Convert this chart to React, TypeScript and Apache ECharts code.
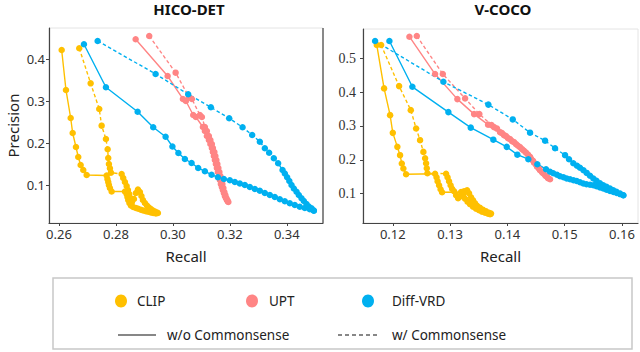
import React, { useEffect, useRef } from "react";
import * as echarts from "echarts";

// ---------- tick labels ----------
const hicoXTicks = [0.26, 0.28, 0.3, 0.32, 0.34];
const hicoYTicks = [0.1, 0.2, 0.3, 0.4];
const vcocoXTicks = [0.12, 0.13, 0.14, 0.15, 0.16];
const vcocoYTicks = [0.1, 0.2, 0.3, 0.4, 0.5];

// ---------- HICO-DET (recall, precision) ----------
const hicoClipSolid: [number, number][] = [
  [0.26095, 0.4214], [0.26246, 0.3262], [0.26411, 0.2595], [0.26481, 0.2238], [0.26597, 0.1905],
  [0.26677, 0.1667], [0.26761, 0.1476], [0.26853, 0.1357], [0.26972, 0.1238], [0.27674, 0.1226],
  [0.27702, 0.1143], [0.2773, 0.1071], [0.27754, 0.1], [0.27789, 0.0929], [0.27849, 0.0845],
  [0.28316, 0.0845], [0.28376, 0.0786], [0.28404, 0.0714], [0.28432, 0.0643], [0.28474, 0.0571],
  [0.28526, 0.0512], [0.28607, 0.0476], [0.28702, 0.0452], [0.28783, 0.0433], [0.28877, 0.041],
  [0.28958, 0.0393], [0.29053, 0.0376], [0.29134, 0.0362], [0.29228, 0.0345], [0.29309, 0.0333],
  [0.29404, 0.0321],
];
const hicoClipCs: [number, number][] = [
  [0.26712, 0.4255], [0.27112, 0.3421], [0.27414, 0.281], [0.27498, 0.2412], [0.27649, 0.2095],
  [0.27709, 0.185], [0.2773, 0.1643], [0.27754, 0.15], [0.27789, 0.1398], [0.27824, 0.1293],
  [0.282, 0.1262], [0.28256, 0.1167], [0.28316, 0.1071], [0.28376, 0.0976], [0.28421, 0.0881],
  [0.28467, 0.0786], [0.28509, 0.069], [0.28562, 0.0595], [0.28632, 0.0667], [0.28702, 0.081],
  [0.28772, 0.0893], [0.28842, 0.0833], [0.28895, 0.0738], [0.28947, 0.0643], [0.29017, 0.0571],
  [0.29088, 0.0512], [0.29158, 0.0464], [0.29228, 0.0429], [0.29298, 0.0393], [0.29368, 0.0369],
  [0.29439, 0.0345], [0.29474, 0.0333],
];
const hicoUptSolid: [number, number][] = [
  [0.28692, 0.4469], [0.29815, 0.3595], [0.30351, 0.3048], [0.30456, 0.3], [0.30713, 0.2667],
  [0.30807, 0.2619], [0.31053, 0.2381], [0.31123, 0.2286], [0.31193, 0.2167], [0.31263, 0.2071],
  [0.31316, 0.1976], [0.31368, 0.1881], [0.31404, 0.1786], [0.31439, 0.169], [0.31474, 0.1595],
  [0.31509, 0.15], [0.31544, 0.1405], [0.31579, 0.131], [0.31614, 0.1214], [0.31649, 0.1119],
  [0.31684, 0.1024], [0.31719, 0.0952], [0.31754, 0.0881], [0.31789, 0.081], [0.31825, 0.0738],
  [0.3186, 0.069], [0.31895, 0.0643], [0.3193, 0.0607],
];
const hicoUptCs: [number, number][] = [
  [0.29169, 0.4548], [0.30096, 0.3674], [0.30563, 0.3095], [0.30667, 0.3048], [0.30948, 0.2667],
  [0.31018, 0.2619], [0.31123, 0.2381], [0.31193, 0.2286], [0.31263, 0.2167], [0.31316, 0.2071],
  [0.31368, 0.1976], [0.31404, 0.1881], [0.31456, 0.1786], [0.31491, 0.169], [0.31526, 0.1595],
  [0.31561, 0.15], [0.31596, 0.1405], [0.31632, 0.131], [0.31667, 0.1214], [0.31702, 0.1119],
  [0.31737, 0.1024], [0.31772, 0.0929], [0.31807, 0.0833], [0.31842, 0.0762], [0.31877, 0.069],
  [0.31912, 0.0643], [0.31947, 0.0595],
];
const hicoDiffSolid: [number, number][] = [
  [0.26877, 0.435], [0.27649, 0.3326], [0.28762, 0.2745], [0.29309, 0.2374], [0.29744, 0.215],
  [0.29983, 0.1917], [0.30193, 0.1762], [0.30421, 0.1619], [0.30656, 0.1524], [0.30888, 0.1405],
  [0.31123, 0.1326], [0.31358, 0.1245], [0.31579, 0.1183], [0.3179, 0.1143], [0.32, 0.1112],
  [0.32176, 0.1071], [0.32351, 0.1036], [0.32527, 0.1], [0.32702, 0.0952], [0.32878, 0.0905],
  [0.33053, 0.0864], [0.33228, 0.081], [0.33404, 0.0762], [0.33579, 0.0714], [0.33755, 0.066],
  [0.3393, 0.0612], [0.34105, 0.0564], [0.34281, 0.0524], [0.34456, 0.0483], [0.34632, 0.0452],
  [0.34807, 0.0421], [0.34948, 0.0393],
];
const hicoDiffCs: [number, number][] = [
  [0.27358, 0.4429], [0.29393, 0.3643], [0.30537, 0.316], [0.31333, 0.285], [0.31976, 0.2588],
  [0.32446, 0.2374], [0.32783, 0.219], [0.33053, 0.2031], [0.33228, 0.1874], [0.33379, 0.1769],
  [0.33544, 0.1636], [0.33695, 0.1517], [0.3385, 0.1357], [0.3393, 0.1274], [0.34011, 0.1183],
  [0.34088, 0.1095], [0.34165, 0.1], [0.34246, 0.0917], [0.34341, 0.084], [0.34421, 0.0762],
  [0.34516, 0.0683], [0.34597, 0.0619], [0.34691, 0.0548], [0.34772, 0.0488], [0.34867, 0.0445],
  [0.34948, 0.0388],
];

// ---------- V-COCO (recall, precision) ----------
const vcocoClipSolid: [number, number][] = [
  [0.11721, 0.5394], [0.11848, 0.4111], [0.11953, 0.332], [0.12, 0.2796], [0.1208, 0.2381],
  [0.12127, 0.2135], [0.12157, 0.1889], [0.12185, 0.1741], [0.12232, 0.1572], [0.12738, 0.1587],
  [0.12764, 0.1483], [0.12782, 0.1364], [0.12808, 0.1246], [0.12834, 0.1127], [0.1286, 0.1038],
  [0.13192, 0.1047], [0.13227, 0.0949], [0.13262, 0.0846], [0.13305, 0.0757], [0.13349, 0.0683],
  [0.13401, 0.0609], [0.13454, 0.055], [0.13506, 0.0505], [0.13558, 0.0461], [0.13611, 0.0431],
  [0.13663, 0.0401], [0.13698, 0.0387],
];
const vcocoClipCs: [number, number][] = [
  [0.11796, 0.5394], [0.1211, 0.4179], [0.12314, 0.3468], [0.12407, 0.2926], [0.12476, 0.2579],
  [0.12534, 0.2233], [0.12564, 0.2046], [0.12581, 0.1898], [0.12593, 0.175], [0.12604, 0.1601],
  [0.1293, 0.1587], [0.12956, 0.1483], [0.12982, 0.1364], [0.13009, 0.1246], [0.13035, 0.1142],
  [0.1307, 0.1068], [0.13105, 0.0949], [0.1314, 0.0861], [0.13192, 0.092], [0.13244, 0.1068],
  [0.13297, 0.1098], [0.13331, 0.1009], [0.13366, 0.089], [0.13401, 0.0801], [0.13436, 0.0712],
  [0.13471, 0.0638], [0.13523, 0.0579], [0.13576, 0.052], [0.13628, 0.0475], [0.1368, 0.0431],
  [0.13715, 0.0407],
];
const vcocoUptSolid: [number, number][] = [
  [0.1229, 0.564], [0.12738, 0.4535], [0.13127, 0.3794], [0.13419, 0.335], [0.13663, 0.3038],
  [0.13768, 0.2964], [0.13872, 0.2816], [0.13942, 0.2727], [0.14012, 0.2638], [0.14082, 0.255],
  [0.14152, 0.2461], [0.14221, 0.2372], [0.14291, 0.2268], [0.14361, 0.215], [0.14413, 0.2031],
  [0.14466, 0.1913], [0.14518, 0.1794], [0.1457, 0.169], [0.14623, 0.1601], [0.14675, 0.1513],
  [0.1471, 0.1453],
];
const vcocoUptCs: [number, number][] = [
  [0.12419, 0.5661], [0.12873, 0.4535], [0.13262, 0.3815], [0.13511, 0.335], [0.13724, 0.3024],
  [0.1382, 0.292], [0.13907, 0.2787], [0.13977, 0.2698], [0.14047, 0.2609], [0.14117, 0.252],
  [0.14187, 0.2416], [0.14256, 0.2313], [0.14326, 0.2209], [0.14396, 0.209], [0.14448, 0.1972],
  [0.14501, 0.1853], [0.14553, 0.1735], [0.14605, 0.1631], [0.14658, 0.1542], [0.1471, 0.1468],
  [0.14745, 0.1424],
];
const vcocoDiffSolid: [number, number][] = [
  [0.11941, 0.5513], [0.12342, 0.4158], [0.1297, 0.3409], [0.13361, 0.295], [0.13755, 0.2594],
  [0.13989, 0.2381], [0.14174, 0.215], [0.14366, 0.2016], [0.14523, 0.1868], [0.14675, 0.172],
  [0.14745, 0.1646], [0.14802, 0.1601], [0.14867, 0.1557], [0.14919, 0.1513], [0.1498, 0.1483],
  [0.15036, 0.1444], [0.15094, 0.1424], [0.15155, 0.1394], [0.15211, 0.1373], [0.15268, 0.1335],
  [0.15326, 0.1296], [0.15382, 0.1275], [0.15443, 0.1261], [0.15501, 0.1246], [0.15556, 0.1216],
  [0.15617, 0.1178], [0.15675, 0.1148], [0.15731, 0.1113], [0.15792, 0.1077], [0.15853, 0.1047],
  [0.15909, 0.1018], [0.15967, 0.0985], [0.16024, 0.095],
];
const vcocoDiffCs: [number, number][] = [
  [0.11691, 0.5513], [0.12883, 0.4307], [0.13668, 0.3631], [0.14094, 0.3193], [0.14396, 0.2801],
  [0.14658, 0.2564], [0.14832, 0.2342], [0.15007, 0.2135], [0.15076, 0.2016], [0.15151, 0.1898],
  [0.15216, 0.1824], [0.15268, 0.1764], [0.15329, 0.169], [0.15385, 0.161], [0.15443, 0.1527],
  [0.15501, 0.1444], [0.15556, 0.1379], [0.15617, 0.1305], [0.15675, 0.1246], [0.15731, 0.1201],
  [0.15792, 0.1148], [0.1585, 0.1098], [0.15905, 0.1053], [0.15967, 0.1003], [0.16024, 0.095],
];

const methods = ["CLIP", "UPT", "Diff-VRD"];
const styleNames = ["w/o Commonsense", "w/ Commonsense"];

const COLORS: Record<string, string> = {
  CLIP: "#FFC000",
  UPT: "#FF8585",
  "Diff-VRD": "#00B0F0",
};
const SANS = "'Noto Sans', 'Open Sans', sans-serif";
const SERIF = "'Liberation Serif', 'DejaVu Serif', serif";

function mkSeries(name: string, data: [number, number][], dashed: boolean, idx: number) {
  const color = COLORS[name];
  return {
    name,
    type: "line",
    xAxisIndex: idx,
    yAxisIndex: idx,
    data,
    symbol: "circle",
    symbolSize: 6.5,
    showAllSymbol: true,
    itemStyle: { color, borderWidth: 0 },
    lineStyle: { color, width: 1.4, type: dashed ? [3.5, 2.5] : "solid" },
    z: 2,
  };
}

function xAxisCfg(idx: number, min: number, max: number, ticks: number[]) {
  return {
    gridIndex: idx,
    type: "value",
    min,
    max,
    name: "Recall",
    nameLocation: "middle",
    nameGap: 25,
    nameTextStyle: { fontSize: 15, color: "#222", fontFamily: SANS },
    axisLine: { show: true, onZero: false, lineStyle: { color: "#444", width: 1.2 } },
    axisTick: { show: true, length: 3, customValues: ticks, lineStyle: { color: "#444" } },
    axisLabel: {
      customValues: ticks,
      formatter: (v: number) => v.toFixed(2),
      fontSize: 13,
      color: "#333",
      margin: 4,
      fontFamily: SANS,
    },
    splitLine: { show: false },
  };
}

function yAxisCfg(idx: number, min: number, max: number, ticks: number[], font: string, name: string) {
  return {
    gridIndex: idx,
    type: "value",
    min,
    max,
    name,
    nameLocation: "middle",
    nameGap: 29,
    nameTextStyle: { fontSize: 15, color: "#222", fontFamily: SANS },
    axisLine: { show: true, onZero: false, lineStyle: { color: "#444", width: 1.2 } },
    axisTick: { show: true, length: 3, customValues: ticks, lineStyle: { color: "#444" } },
    axisLabel: {
      customValues: ticks,
      formatter: (v: number) => v.toFixed(1),
      fontSize: font === SERIF ? 14 : 13,
      color: "#333",
      margin: font === SERIF ? 7 : 4,
      fontFamily: font,
    },
    splitLine: { show: false },
  };
}

export default function App() {
  const ref = useRef<HTMLDivElement>(null);
  useEffect(() => {
    if (!ref.current) return;
    const chart = echarts.init(ref.current, undefined, { renderer: "svg" });
    const legendText = { fontSize: 13.5, fontFamily: SANS, fill: "#222" };
    const option = {
      animation: false,
      backgroundColor: "#fff",
      grid: [
        { left: 49, top: 28, width: 274, height: 195, show: true, borderColor: "#e4e4e4", borderWidth: 1 },
        { left: 363, top: 29, width: 275, height: 194, show: true, borderColor: "#e4e4e4", borderWidth: 1 },
      ],
      xAxis: [
        xAxisCfg(0, 0.2565, 0.3527, hicoXTicks),
        xAxisCfg(1, 0.1148, 0.1628, vcocoXTicks),
      ],
      yAxis: [
        yAxisCfg(0, 0.0095, 0.4738, hicoYTicks, SANS, "Precision"),
        yAxisCfg(1, 0.0129, 0.5868, vcocoYTicks, SERIF, ""),
      ],
      series: [
        mkSeries("CLIP", hicoClipSolid, false, 0),
        mkSeries("CLIP", hicoClipCs, true, 0),
        mkSeries("UPT", hicoUptSolid, false, 0),
        mkSeries("UPT", hicoUptCs, true, 0),
        mkSeries("Diff-VRD", hicoDiffSolid, false, 0),
        mkSeries("Diff-VRD", hicoDiffCs, true, 0),
        mkSeries("CLIP", vcocoClipSolid, false, 1),
        mkSeries("CLIP", vcocoClipCs, true, 1),
        mkSeries("UPT", vcocoUptSolid, false, 1),
        mkSeries("UPT", vcocoUptCs, true, 1),
        mkSeries("Diff-VRD", vcocoDiffSolid, false, 1),
        mkSeries("Diff-VRD", vcocoDiffCs, true, 1),
      ],
      graphic: [
        {
          type: "text", x: 189, y: 9, z: 10,
          style: { text: "HICO-DET", font: `bold 15px ${SANS}`, fill: "#111", textAlign: "center", textVerticalAlign: "middle" },
        },
        {
          type: "text", x: 503, y: 9, z: 10,
          style: { text: "V-COCO", font: `bold 15px ${SANS}`, fill: "#111", textAlign: "center", textVerticalAlign: "middle" },
        },
        { type: "line", z: 10, shape: { x1: 323, y1: 28, x2: 323, y2: 223 }, style: { stroke: "#444", lineWidth: 1.2 } },
        {
          type: "rect", z: 10,
          shape: { x: 53, y: 278, width: 579, height: 71 },
          style: { fill: "#fff", stroke: "#c8c8c8", lineWidth: 1.5 },
        },
        { type: "ellipse", z: 11, shape: { cx: 121, cy: 301, rx: 6, ry: 6.5 }, style: { fill: COLORS[methods[0]] } },
        { type: "text", z: 11, x: 137, y: 301, style: { ...legendText, text: methods[0], textVerticalAlign: "middle" } },
        { type: "ellipse", z: 11, shape: { cx: 252, cy: 301, rx: 6, ry: 6.5 }, style: { fill: COLORS[methods[1]] } },
        { type: "text", z: 11, x: 269, y: 301, style: { ...legendText, text: methods[1], textVerticalAlign: "middle" } },
        { type: "ellipse", z: 11, shape: { cx: 368, cy: 301, rx: 6, ry: 6.5 }, style: { fill: COLORS[methods[2]] } },
        { type: "text", z: 11, x: 392, y: 301, style: { ...legendText, text: methods[2], textVerticalAlign: "middle" } },
        { type: "line", z: 11, shape: { x1: 118, y1: 335, x2: 156, y2: 335 }, style: { stroke: "#111", lineWidth: 1.2 } },
        { type: "text", z: 11, x: 167, y: 335, style: { ...legendText, text: styleNames[0], textVerticalAlign: "middle" } },
        {
          type: "line", z: 11, shape: { x1: 338, y1: 335, x2: 378, y2: 335 },
          style: { stroke: "#111", lineWidth: 1.2, lineDash: [4, 3] },
        },
        { type: "text", z: 11, x: 392, y: 335, style: { ...legendText, text: styleNames[1], textVerticalAlign: "middle" } },
      ],
    };
    chart.setOption(option as any);
    return () => chart.dispose();
  }, []);
  return (
    <div
      ref={ref}
      style={{ position: "fixed", left: 0, top: 0, width: 640, height: 352, background: "#fff" }}
    />
  );
}
